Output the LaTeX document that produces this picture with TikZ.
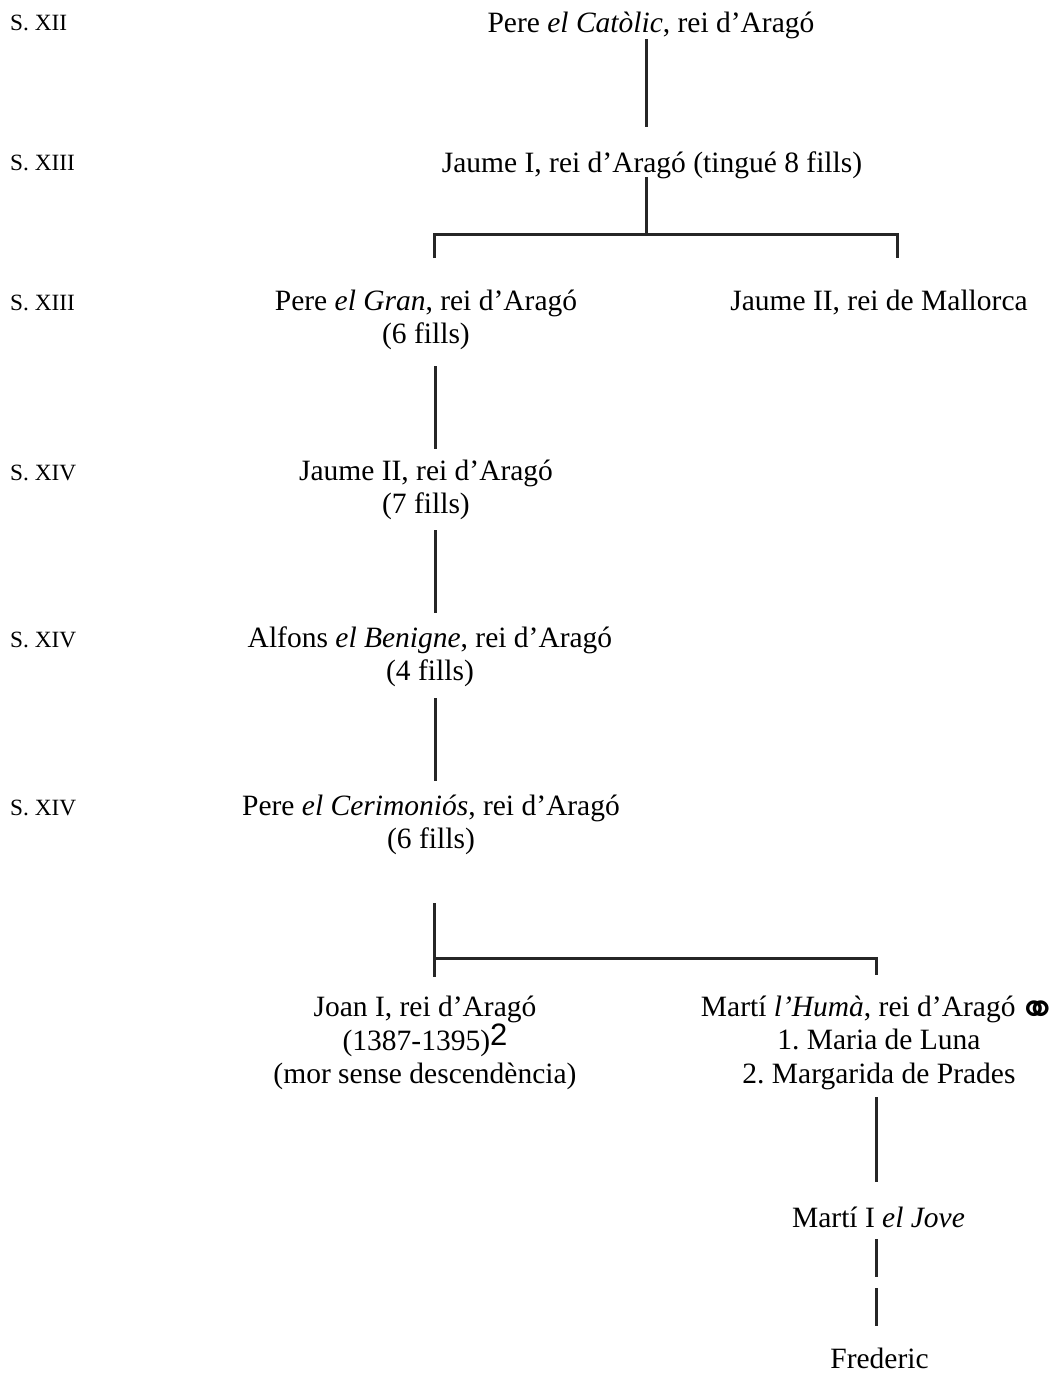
\documentclass[tikz,border=0pt]{standalone}
\usepackage{fontspec}
\setmainfont{Liberation Serif}
\newfontfamily\supsffont{Liberation Sans}
\newfontfamily\marrfont{DejaVu Sans}
\begin{document}
\begin{tikzpicture}[x=1pt,y=-1pt,
  person/.style={align=center, anchor=base, inner sep=0pt, font=\fontsize{29.5}{33.5}\selectfont\frenchspacing},
  century/.style={anchor=base west, inner sep=0pt, font=\fontsize{23.3}{26}\selectfont},
  link/.style={line width=3pt, line cap=butt, draw=black!85},
  dashlink/.style={link, dash pattern=on 38pt off 11pt}]
\useasboundingbox[fill=white] (0,0) rectangle (1055,1374);

% century labels
\node[century] (c1) at (10,30) {S. XII};
\node[century] (c2) at (10,170) {S. XIII};
\node[century] (c3) at (10,310) {S. XIII};
\node[century] (c4) at (10,480) {S. XIV};
\node[century] (c5) at (10,647) {S. XIV};
\node[century] (c6) at (10,815) {S. XIV};

% people (anchor base = baseline of the last line)
\node[person] (catolic) at (651,32) {Pere \textit{el Catòlic}, rei d’Aragó};
\node[person] (jaume1) at (652,172) {Jaume I, rei d’Aragó (tingué 8 fills)};
\node[person] (gran) at (426,343.5) {Pere \textit{el Gran}, rei d’Aragó\\(6 fills)};
\node[person] (mallorca) at (879,310) {Jaume II, rei de Mallorca};
\node[person] (jaume2) at (426,513.5) {Jaume II, rei d’Aragó\\(7 fills)};
\node[person] (alfons) at (430,680.5) {Alfons \textit{el Benigne}, rei d’Aragó\\(4 fills)};
\node[person] (cerim) at (431,848.5) {Pere \textit{el Cerimoniós}, rei d’Aragó\\(6 fills)};
\node[person] (joan) at (425,1083.5) {Joan I, rei d’Aragó\\(1387-1395)\smash{\raisebox{5pt}{\supsffont\fontsize{31}{31}\selectfont 2}}\\(mor sense descendència)};
\node[person] (marti) at (879,1083) {Martí \textit{l’Humà}, rei d’Aragó\hspace{3pt}\smash{\raisebox{-9.2pt}{\marrfont\fontsize{46}{46}\selectfont ⚭}}\\1. Maria de Luna\\2. Margarida de Prades};
\node[person] (jove) at (878.5,1227) {Martí I \textit{el Jove}};
\node[person] (frederic) at (879.5,1368) {Frederic};

% connector points
\path (646,39) coordinate (k1a) (646,127) coordinate (k1b)
      (646,177) coordinate (k2a) (646,234) coordinate (k2b)
      (434,234) coordinate (k2l) (897,234) coordinate (k2r)
      (434,258) coordinate (k2ld) (897,258) coordinate (k2rd)
      (435,366) coordinate (k3a) (435,449) coordinate (k3b)
      (435,530) coordinate (k4a) (435,613) coordinate (k4b)
      (435,698) coordinate (k5a) (435,781) coordinate (k5b)
      (434,903) coordinate (k6a) (434,958) coordinate (k6m)
      (434,977) coordinate (k6ld) (876,958) coordinate (k6r)
      (876,975) coordinate (k6rd)
      (876,1097) coordinate (k7a) (876,1182) coordinate (k7b)
      (876,1239) coordinate (k8a) (876,1327) coordinate (k8b);

\draw[link] (k1a) -- (k1b);
\draw[link] (k2a) -- (k2b);
\draw[link] (k2ld) -- (k2l) -- (k2r) -- (k2rd);
\draw[link] (k3a) -- (k3b);
\draw[link] (k4a) -- (k4b);
\draw[link] (k5a) -- (k5b);
\draw[link] (k6a) -- (k6ld);
\draw[link] (k6m) -- (k6r) -- (k6rd);
\draw[link] (k7a) -- (k7b);
\draw[dashlink] (k8a) -- (k8b);
\end{tikzpicture}
\end{document}
